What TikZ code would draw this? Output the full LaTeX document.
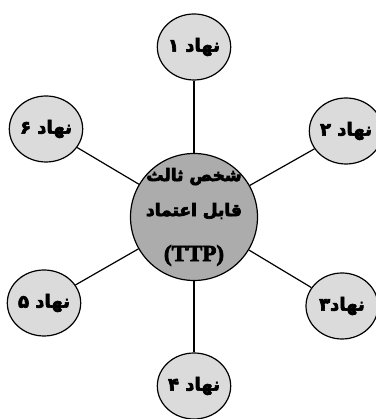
\documentclass[tikz,border=0pt]{standalone}
\usepackage{fontspec}
\setmainfont{Liberation Serif}
\newfontfamily\farsi[Script=Arabic]{DejaVu Sans}
\TeXXeTstate=1
\newcommand\heavy[1]{\special{pdf:code q 2 Tr 0.7 w}#1\special{pdf:code Q}}
\usetikzlibrary{shapes.geometric}

\begin{document}
\begin{tikzpicture}[x=1pt,y=1pt,line width=1.2pt,
   entity/.style={ellipse,draw,fill=gray!28,minimum width=72pt,minimum height=66pt,inner sep=0pt,
      font=\farsi\bfseries\fontsize{18}{19}\selectfont},
   ttp/.style={circle,draw,fill=gray!65,minimum size=127pt,inner sep=0pt},
   ttptext/.style={align=center,inner sep=0pt,font=\farsi\bfseries\fontsize{17}{35}\selectfont}]
   \useasboundingbox (0,0) rectangle (375,419);
   \node[ttp] (c) at (194,202) {};
   \node[ttptext] (t) at (c.center) {\heavy{\beginR شخص ثالث\endR}\\ \heavy{\beginR قابل اعتماد\endR}\\[10pt]
      {\rmfamily\bfseries\fontsize{23}{24}\selectfont \heavy{(TTP)}}};
   \node[entity] (1) at (194,372) {\heavy{\beginR نهاد ۱\endR}};
   \node[entity] (2) at (346,288) {\heavy{\beginR نهاد ۲\endR}};
   \node[entity] (3) at (342,113) {\heavy{\beginR نهاد۳\endR}};
   \node[entity] (4) at (194,33)  {\heavy{\beginR نهاد ۴\endR}};
   \node[entity] (5) at (44,116)  {\heavy{\beginR نهاد ۵\endR}};
   \node[entity] (6) at (46,290)  {\heavy{\beginR نهاد ۶\endR}};
   \path
    (c) edge (1)
    (c) edge (2)
    (c) edge (3)
    (c) edge (4)
    (c) edge (5)
    (c) edge (6)
    ;
\end{tikzpicture}
\end{document}
